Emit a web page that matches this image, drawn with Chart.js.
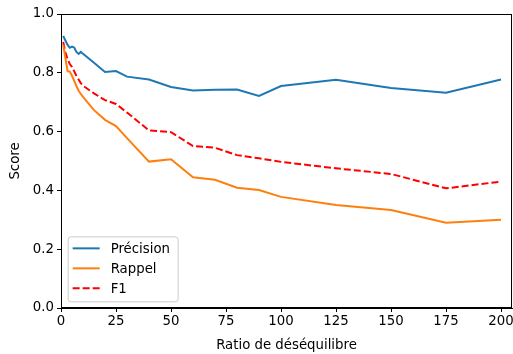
<!DOCTYPE html>
<html>
<head>
<meta charset="utf-8">
<script src="https://cdn.jsdelivr.net/npm/chart.js@4/dist/chart.umd.min.js"></script>
<style>
  html, body { margin: 0; padding: 0; background: #fff; }
  #wrap { width: 513px; height: 354px; }
</style>
</head>
<body>
<div id="wrap"><canvas id="chart" width="513" height="354"></canvas></div>
<script>
// ratios de déséquilibre
const ratios = [1, 2, 3, 4, 5, 6, 7, 8, 9, 10, 15, 20, 25, 30, 40, 50, 60, 70, 80, 90, 100, 125, 150, 175, 200];
const precision = [0.925, 0.91, 0.895, 0.885, 0.889, 0.886, 0.871, 0.864, 0.871, 0.865, 0.834, 0.803, 0.806, 0.787, 0.777, 0.752, 0.74, 0.742, 0.743, 0.721, 0.755, 0.776, 0.748, 0.732, 0.777];
const rappel = [0.895, 0.85, 0.805, 0.804, 0.79, 0.773, 0.755, 0.74, 0.728, 0.718, 0.673, 0.64, 0.619, 0.578, 0.498, 0.506, 0.445, 0.436, 0.409, 0.401, 0.378, 0.35, 0.333, 0.29, 0.3];
const f1 = [0.905, 0.87, 0.846, 0.83, 0.82, 0.805, 0.79, 0.777, 0.765, 0.756, 0.73, 0.707, 0.694, 0.665, 0.604, 0.598, 0.551, 0.545, 0.52, 0.509, 0.497, 0.475, 0.456, 0.407, 0.43];
const xTicks = [0, 25, 50, 75, 100, 125, 150, 175, 200];
const yTicks = [0, 0.2, 0.4, 0.6, 0.8, 1.0];

const FONT = 'DejaVu Sans';
const FS = 13.3;

function pts(ys) {
  return ratios.map((x, i) => ({ x: x, y: ys[i] }));
}

// pas de marge auto autour des axes
function noPad(scale) {
  scale.paddingLeft = 0;
  scale.paddingRight = 0;
  scale.paddingTop = 0;
  scale.paddingBottom = 0;
}

// cadre + légende façon matplotlib, dans la zone du graphique
const cadre = {
  id: 'cadre',
  afterDraw(chart) {
    const ctx = chart.ctx;
    const a = chart.chartArea;
    ctx.save();
    ctx.strokeStyle = '#000';
    ctx.lineWidth = 1;
    ctx.strokeRect(a.left + 0.5, a.top + 0.5, a.right - a.left - 1, a.bottom - a.top - 1);

    // légende en bas à gauche
    const sets = chart.data.datasets;
    const pad = FS * 0.5;
    const rowH = 20;
    const bx = a.left + pad;
    const bw = 110;
    const bh = sets.length * rowH + 5;
    const by = a.bottom - pad - bh;
    ctx.fillStyle = 'rgba(255,255,255,0.8)';
    ctx.strokeStyle = '#cccccc';
    ctx.lineWidth = 1;
    ctx.beginPath();
    ctx.roundRect(bx + 0.5, by + 0.5, bw, bh, 3);
    ctx.fill();
    ctx.stroke();
    ctx.font = FS + 'px "' + FONT + '"';
    ctx.textBaseline = 'middle';
    sets.forEach((ds, i) => {
      const y = by + 12 + i * rowH;
      ctx.strokeStyle = ds.borderColor;
      ctx.lineWidth = ds.borderWidth;
      ctx.setLineDash(ds.borderDash || []);
      ctx.beginPath();
      ctx.moveTo(bx + 5, y);
      ctx.lineTo(bx + 32, y);
      ctx.stroke();
      ctx.setLineDash([]);
      ctx.fillStyle = '#000';
      ctx.fillText(ds.label, bx + 43, y + 1);
    });
    ctx.restore();
  }
};

const ctx = document.getElementById('chart').getContext('2d');
new Chart(ctx, {
  type: 'line',
  data: {
    datasets: [
      { label: 'Précision', data: pts(precision), borderColor: '#1f77b4', borderWidth: 2, pointRadius: 0, tension: 0 },
      { label: 'Rappel', data: pts(rappel), borderColor: '#ff7f0e', borderWidth: 2, pointRadius: 0, tension: 0 },
      { label: 'F1', data: pts(f1), borderColor: '#ff0000', borderWidth: 2, borderDash: [7, 3], pointRadius: 0, tension: 0 }
    ]
  },
  options: {
    responsive: false,
    animation: false,
    layout: { padding: { left: 0, top: 14, right: 1, bottom: 0 } },
    plugins: {
      legend: { display: false },
      tooltip: { enabled: false }
    },
    scales: {
      x: {
        type: 'linear',
        min: 0,
        max: 205,
        afterBuildTicks(scale) { scale.ticks = xTicks.map(v => ({ value: v })); },
        afterFit(scale) { scale.height = 46; noPad(scale); },
        ticks: { color: '#000', font: { family: FONT, size: FS }, padding: 2, maxRotation: 0 },
        grid: { display: true, drawOnChartArea: false, drawTicks: true, tickLength: 4, color: '#000' },
        border: { display: true, color: '#000' },
        title: { display: true, text: 'Ratio de déséquilibre', color: '#000', font: { family: FONT, size: FS }, padding: { top: 1, bottom: 0 } }
      },
      y: {
        min: 0,
        max: 1,
        afterBuildTicks(scale) { scale.ticks = yTicks.map(v => ({ value: v })); },
        afterFit(scale) { scale.width = 61; noPad(scale); },
        ticks: { color: '#000', font: { family: FONT, size: FS }, padding: 3, callback: v => v.toFixed(1) },
        grid: { display: true, drawOnChartArea: false, drawTicks: true, tickLength: 4, color: '#000' },
        border: { display: true, color: '#000' },
        title: { display: true, text: 'Score', color: '#000', font: { family: FONT, size: FS }, padding: { top: 8, bottom: 0 } }
      }
    }
  },
  plugins: [cadre]
});
</script>
</body>
</html>
